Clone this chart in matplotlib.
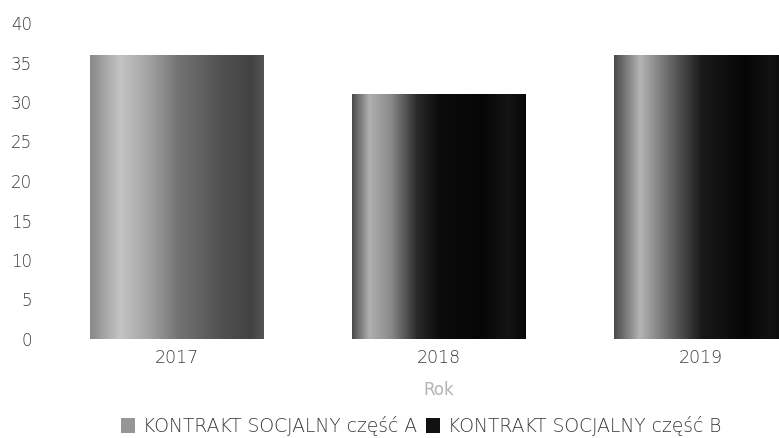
import numpy as np
import matplotlib
matplotlib.use('Agg')
import matplotlib.pyplot as plt
from matplotlib.colors import LinearSegmentedColormap
from matplotlib.patches import Patch

years = ['2017', '2018', '2019']
series_a = [36, 31, 36]
series_b = [36, 31, 36]
series_labels = ['KONTRAKT SOCJALNY część A', 'KONTRAKT SOCJALNY część B']
y_ticks = [0, 5, 10, 15, 20, 25, 30, 35, 40]
x_title = 'Rok'

plt.rcParams['font.family'] = ['DejaVu Sans']
plt.rcParams['font.weight'] = 'light'

fig = plt.figure(figsize=(7.79, 4.38), dpi=100)
ax = fig.add_axes([46/779, 99/438, 733/779, 316/438])

x = np.arange(len(years))
w = 0.332
bars_a = ax.bar(x - w/2, series_a, w, color='#a0a0a0', edgecolor='none', zorder=1)
bars_b = ax.bar(x + w/2, series_b, w, color='#101010', edgecolor='none', zorder=1)

# gradient styles (left -> right) emulating the scanned shading
grad_a = [[(0, '#888888'), (0.35, '#c4c4c4'), (0.7, '#a0a0a0'), (1, '#767676')],
          [(0, '#4a4a4a'), (0.2, '#b0b0b0'), (0.45, '#8a8a8a'), (0.75, '#2a2a2a'), (1, '#0c0c0c')],
          [(0, '#4a4a4a'), (0.3, '#b4b4b4'), (0.6, '#707070'), (1, '#1c1c1c')]]
grad_b = [[(0, '#747474'), (0.5, '#525252'), (0.85, '#424242'), (1, '#555555')],
          [(0, '#0c0c0c'), (0.5, '#060606'), (0.8, '#141414'), (1, '#080808')],
          [(0, '#1a1a1a'), (0.5, '#060606'), (0.8, '#121212'), (1, '#080808')]]

g = np.linspace(0, 1, 256)[np.newaxis, :]
for bars, grads in ((bars_a, grad_a), (bars_b, grad_b)):
    for bar, cols in zip(bars, grads):
        cmap = LinearSegmentedColormap.from_list('g', cols)
        x0 = bar.get_x()
        im = ax.imshow(g, extent=[x0, x0 + bar.get_width(), 0, bar.get_height()],
                       aspect='auto', cmap=cmap, vmin=0, vmax=1, zorder=2,
                       interpolation='bilinear')
        im.set_clip_path(bar)

ax.set_xlim(-0.5, -0.5 + 733/262)
ax.set_ylim(0, 40)
ax.set_yticks(y_ticks)
ax.set_xticks(x)
ax.set_xticklabels(years)
for s in ax.spines.values():
    s.set_visible(False)
ax.tick_params(axis='y', length=0, pad=10, labelsize=12, labelcolor='#3a3a3a')
ax.tick_params(axis='x', length=0, pad=7, labelsize=12.5, labelcolor='#3a3a3a')

ax.set_xlabel(x_title, color='#b4b4b4', fontsize=12, va='center')
ax.xaxis.set_label_coords((1 + 0.5) / (733/262), -0.16)

handles = [Patch(facecolor='#969696', edgecolor='none'),
           Patch(facecolor='#111111', edgecolor='none')]
fig.legend(handles, series_labels, loc='center', bbox_to_anchor=(421/779, 0.027),
           ncol=2, frameon=False, handlelength=0.75, handleheight=0.85,
           handletextpad=0.4, columnspacing=0.5, fontsize=13.5,
           labelcolor='#3a3a3a')

fig.savefig('out.png', dpi=100)
